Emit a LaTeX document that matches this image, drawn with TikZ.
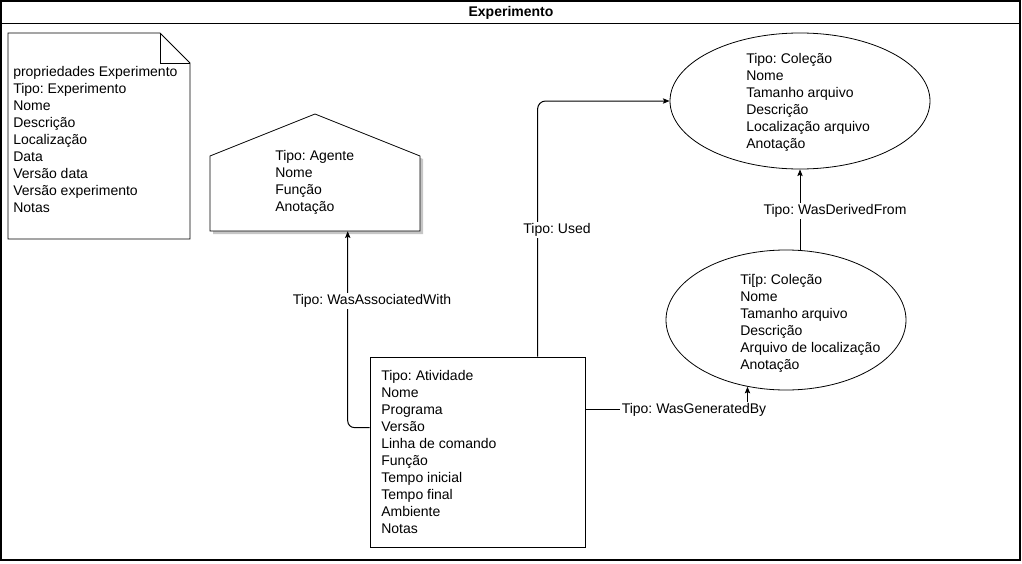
\documentclass[tikz,border=0pt]{standalone}
\usepackage{fontspec}
\setmainfont{Liberation Sans}
\usetikzlibrary{arrows.meta,shapes.geometric,calc}
\frenchspacing
\begin{document}
\begin{tikzpicture}[x=0.75pt,y=-0.75pt,
  every node/.style={font=\fontsize{10.5}{12.75}\selectfont},
  txt/.style={anchor=north west,inner sep=0pt,align=left},
  lbl/.style={fill=white,inner sep=1pt},
  conn/.style={line width=0.75pt,-{Stealth[length=5pt,width=4pt,inset=1pt]}},
  shp/.style={draw,line width=0.6pt}]
\useasboundingbox (0,0) rectangle (1022,564);
% frame
\draw[line width=1pt] (1,1) rectangle (1020,560);
\draw[line width=0.75pt] (1,23.5) -- (1020,23.5);
\node[font=\fontsize{10.5}{12.75}\selectfont\bfseries] (title) at (511,13) {Experimento};

% note (document shape)
\draw[shp] (8,33) -- (160,33) -- (190,63) -- (190,239) -- (8,239) -- cycle;
\draw[shp] (160,33) -- (160,63) -- (190,63);
\node[txt] (notetxt) at (13,66.5) {propriedades Experimento\\Tipo: Experimento\\Nome\\Descrição\\Localização\\Data\\Versão data\\Versão experimento\\Notas};

% agent (pentagon)
\fill[gray!45] (213,159) -- (318,117) -- (423,159) -- (423,234) -- (213,234) -- cycle;
\path[shp, fill=white] (210,156) -- (315,114) -- (420,156) -- (420,231) -- (210,231) -- cycle;
\node[inner sep=0pt, minimum width=210*0.75pt, minimum height=75*0.75pt] (agent) at (315,193.5) {};
\node[txt] (agenttxt) at (275,150.5) {Tipo: Agente\\Nome\\Função\\Anotação};

% activity
\node[shp, inner sep=0pt, minimum width=215*0.75pt, minimum height=190*0.75pt] (act) at (477.5,452) {};
\node[txt] (acttxt) at (381,370) {Tipo: Atividade\\Nome\\Programa\\Versão\\Linha de comando\\Função\\Tempo inicial\\Tempo final\\Ambiente\\Notas};

% collections
\node[shp, ellipse, inner sep=0pt, minimum width=260*0.75pt, minimum height=136*0.75pt] (col1) at (800,101) {};
\node[txt] (col1txt) at (746,53) {Tipo: Coleção\\Nome\\Tamanho arquivo\\Descrição\\Localização arquivo\\Anotação};

\node[shp, ellipse, inner sep=0pt, minimum width=240*0.75pt, minimum height=140*0.75pt] (col2) at (786,320) {};
\node[txt] (col2txt) at (740,274) {Ti[p: Coleção\\Nome\\Tamanho arquivo\\Descrição\\Arquivo de localização\\Anotação};

% connectors
\draw[conn, rounded corners=6pt] ($(act.north west)+(168,0)$) |- (col1.west)
  node[lbl] at (557,230) {Tipo: Used};
\draw[conn, rounded corners=5pt] ($(act.north west)+(0,71)$) -| ($(agent.south west)+(138,0)$)
  node[lbl] at (372,301) {Tipo: WasAssociatedWith};
\draw[conn] (col2.north -| col1.south) -- (col1.south)
  node[lbl] at (835,211) {Tipo: WasDerivedFrom};
\draw[conn] ($(act.north east)+(0,53)$) -| (col2.240)
  node[lbl] at (694,410) {Tipo: WasGeneratedBy};
\end{tikzpicture}
\end{document}
